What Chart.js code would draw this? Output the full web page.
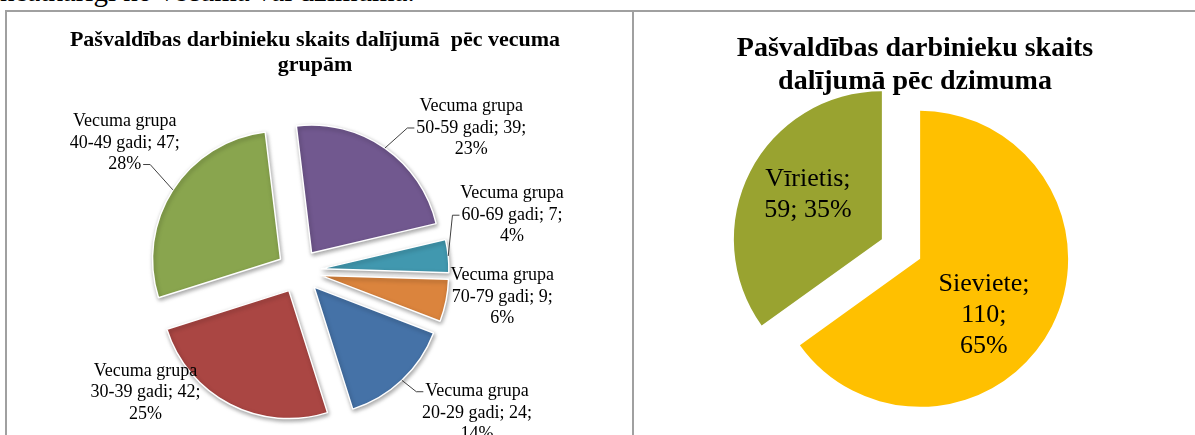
<!DOCTYPE html>
<html lang="lv">
<head>
<meta charset="utf-8">
<script src="https://cdn.jsdelivr.net/npm/chart.js@4.4.1/dist/chart.umd.min.js"></script>
<style>
  html, body { margin: 0; padding: 0; background: #fff; }
  body { position: relative; width: 1195px; height: 435px; overflow: hidden; font-family: "Liberation Serif", serif; }
  .doc { position: absolute; left: 0; top: -23px; font-size: 29px; line-height: 29px; color: #000; white-space: nowrap; }
  .hline { position: absolute; left: 5px; right: 0; top: 10px; height: 2px; background: #a0a0a0; }
  .vline { position: absolute; top: 10px; bottom: 0; width: 2px; background: #a0a0a0; }
  canvas { position: absolute; }
</style>
</head>
<body>
<div class="doc">neatkarīgi no vecuma vai dzimuma.</div>
<div class="hline"></div>
<div class="vline" style="left:5px"></div>
<div class="vline" style="left:632px"></div>
<canvas id="ageChart" width="616" height="423" style="left:7px;top:12px"></canvas>
<canvas id="genderChart" width="560" height="423" style="left:635px;top:12px"></canvas>
<script>
// Dati - vecuma grupas
const ageGroups = ["20-29", "30-39", "40-49", "50-59", "60-69", "70-79"];
const ageCounts = [24, 42, 47, 39, 7, 9];
const agePercent = [14, 25, 28, 23, 4, 6];

// Dati - dzimums
const genders = ["Sieviete", "Vīrietis"];
const genderCounts = [110, 59];
const genderPercent = [65, 35];

const ageColors = ["#4572A7", "#AA4643", "#89A54E", "#71588F", "#4198AF", "#DB843D"];
const genderColors = ["#FFC000", "#99A330"];

// izvirzījums (px) un etiķešu vieta: [leņķis no augšas, attālums rādiusos]
const ageExplode = [22, 22, 22, 22, 22, 22];
const ageLabelPos = [[128.6, 1.78], [231.6, 1.53], [306.3, 1.69], [50.3, 1.75], [75.3, 1.72], [97.3, 1.6]];
const ageLeader = [0, null, 2, 1, 1, null];
const genderExplode = [21.5, 21.5];
const genderLabelPos = [[128.5, 0.716], [300.1, 0.727]];

// sektoru zīmēšana ar izvirzījumu (pīrāgs nobīdīts pa kreisi no virsraksta centra)
const explodePlugin = {
  id: "explode",
  beforeDatasetsDraw(chart, args, o) {
    const ctx = chart.ctx;
    chart.getDatasetMeta(0).data.forEach((arc, i) => {
      const mid = (arc.startAngle + arc.endAngle) / 2;
      const d = o.distance[i] || 0;
      ctx.save();
      ctx.translate(o.shiftX + Math.cos(mid) * d, Math.sin(mid) * d);
      if (o.shadow) {
        ctx.shadowColor = "rgba(0,0,0,0.35)";
        ctx.shadowBlur = 4;
        ctx.shadowOffsetX = 1;
        ctx.shadowOffsetY = 2;
      }
      arc.draw(ctx);
      ctx.restore();
    });
    return false;
  }
};

// etiķetes un norādes līnijas
const labelPlugin = {
  id: "sliceLabels",
  afterDraw(chart, args, o) {
    const ctx = chart.ctx;
    const shift = chart.options.plugins.explode.shiftX;
    ctx.save();
    ctx.font = o.size + "px 'Liberation Serif'";
    ctx.fillStyle = "#000";
    ctx.strokeStyle = "#404040";
    ctx.lineWidth = 1;
    ctx.textAlign = "center";
    ctx.textBaseline = "middle";
    chart.getDatasetMeta(0).data.forEach((arc, i) => {
      const lines = o.lines(i);
      const [deg, k] = o.pos[i];
      const a = (deg - 90) * Math.PI / 180;
      const r = arc.outerRadius;
      const ox = arc.x + shift;
      const cx = ox + Math.cos(a) * k * r;
      const cy = arc.y + Math.sin(a) * k * r;
      const top = cy - (lines.length - 1) * o.lineHeight / 2;
      lines.forEach((t, j) => ctx.fillText(t, cx, top + j * o.lineHeight));
      const li = o.leader ? o.leader[i] : null;
      if (li != null) {
        const mid = (arc.startAngle + arc.endAngle) / 2;
        const d = o.explode[i] + r;
        const sx = ox + Math.cos(mid) * d;
        const sy = arc.y + Math.sin(mid) * d;
        const ly = top + li * o.lineHeight;
        const w = ctx.measureText(lines[li]).width;
        const s = cx > sx ? 1 : -1;
        const ex = cx - s * (w / 2 + 2);
        ctx.beginPath();
        ctx.moveTo(sx, sy);
        ctx.lineTo(ex - s * 7, ly);
        ctx.lineTo(ex, ly);
        ctx.stroke();
      }
    });
    ctx.restore();
  }
};

new Chart(document.getElementById("ageChart"), {
  type: "pie",
  data: {
    labels: ageGroups,
    datasets: [{
      data: ageCounts,
      backgroundColor: ageColors,
      borderColor: "#ffffff",
      borderWidth: 1.5,
      rotation: 111,
      radius: 128,
      clip: false
    }]
  },
  options: {
    responsive: false,
    animation: false,
    events: [],
    plugins: {
      legend: { display: false },
      tooltip: { enabled: false },
      title: {
        display: true,
        text: ["Pašvaldības darbinieku skaits dalījumā  pēc vecuma", "grupām"],
        color: "#000",
        font: { family: "'Liberation Serif', serif", size: 22, weight: "bold", lineHeight: 1.14 },
        padding: { top: 15.5, bottom: 29.5 }
      },
      explode: { distance: ageExplode, shadow: true, shiftX: -16 },
      sliceLabels: {
        size: 18,
        lineHeight: 21.5,
        pos: ageLabelPos,
        leader: ageLeader,
        explode: ageExplode,
        lines: (i) => ["Vecuma grupa", ageGroups[i] + " gadi; " + ageCounts[i] + ";", agePercent[i] + "%"]
      }
    }
  },
  plugins: [explodePlugin, labelPlugin]
});

new Chart(document.getElementById("genderChart"), {
  type: "pie",
  data: {
    labels: genders,
    datasets: [{
      data: genderCounts,
      backgroundColor: genderColors,
      borderWidth: 0,
      rotation: 0,
      radius: 148,
      clip: false
    }]
  },
  options: {
    responsive: false,
    animation: false,
    events: [],
    layout: { padding: { bottom: 35.5 } },
    plugins: {
      legend: { display: false },
      tooltip: { enabled: false },
      title: {
        display: true,
        text: ["Pašvaldības darbinieku skaits", "dalījumā pēc dzimuma"],
        color: "#000",
        font: { family: "'Liberation Serif', serif", size: 28, weight: "bold", lineHeight: 1.18 },
        padding: { top: 20.5, bottom: 0 }
      },
      explode: { distance: genderExplode, shadow: false, shiftX: -14 },
      sliceLabels: {
        size: 26,
        lineHeight: 31,
        pos: genderLabelPos,
        lines: (i) => i === 0
          ? [genders[i] + ";", genderCounts[i] + ";", genderPercent[i] + "%"]
          : [genders[i] + ";", genderCounts[i] + "; " + genderPercent[i] + "%"]
      }
    }
  },
  plugins: [explodePlugin, labelPlugin]
});
</script>
</body>
</html>
